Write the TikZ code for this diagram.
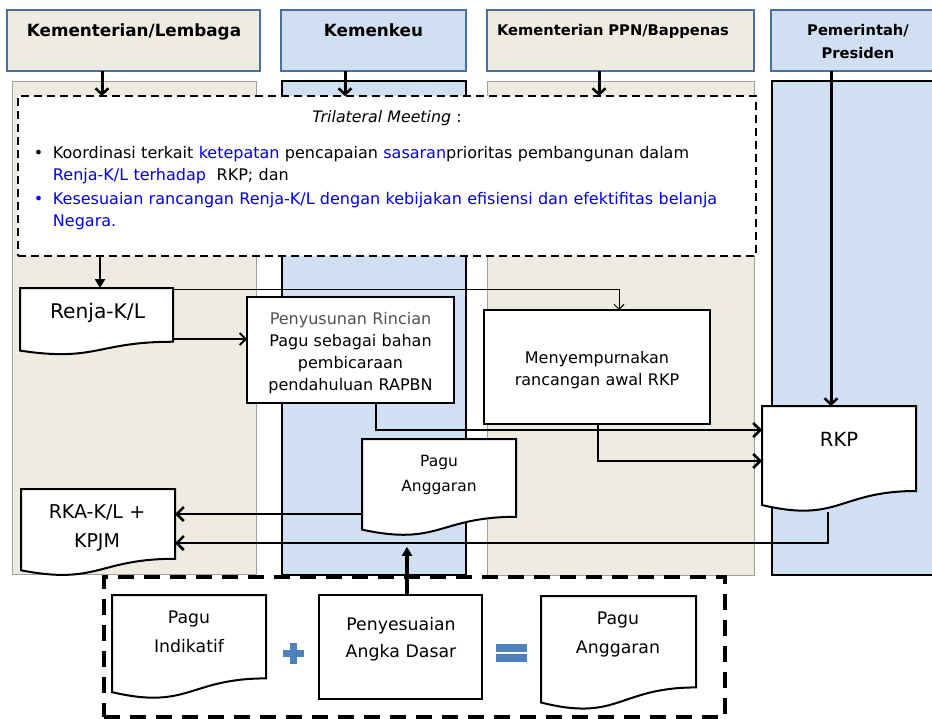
\documentclass[tikz,border=0pt]{standalone}
\usepackage{fontspec}
\setmainfont{DejaVu Sans}
\usetikzlibrary{arrows.meta,calc}
\definecolor{beige}{HTML}{EEECE1}
\definecolor{lblue}{HTML}{D0E0F2}
\definecolor{hdrline}{HTML}{4A6E9E}
\definecolor{tblue}{RGB}{0,0,235}
\definecolor{symblue}{HTML}{4F81BD}
\definecolor{lanegray}{HTML}{A0A0A0}
\definecolor{pgray}{HTML}{505050}
\newcommand\docshape[5]{%
  \filldraw[docline] (#2,#3) -- ++(#4,0) -- ++(0,{0.802*#5})
    .. controls ({#2+0.5*#4},{#3+0.802*#5}) and ({#2+0.5*#4},{#3+1.1075*#5}) .. (#2,{#3+0.934*#5}) -- cycle;
  \node[inner sep=0, outer sep=0, minimum width=#4pt, minimum height={#5pt*0.802}, anchor=north west] (#1) at (#2,#3) {};
}
\begin{document}
\begin{tikzpicture}[x=1pt,y=-1pt,
  hdrA/.style={draw=hdrline, line width=2pt, fill=beige, inner sep=0, outer sep=0, anchor=north west},
  hdrB/.style={hdrA, fill=lblue},
  hfont/.style={font=\bfseries\fontsize{16.8}{19}\selectfont},
  sfont/.style={font=\bfseries\fontsize{14.7}{23}\selectfont},
  laneA/.style={draw=lanegray, line width=0.8pt, fill=beige, inner sep=0, outer sep=0, anchor=north west},
  laneB/.style={draw=black, line width=2pt, fill=lblue, inner sep=0, outer sep=0, anchor=north west},
  proc/.style={draw=black, line width=2pt, fill=white, inner sep=0, outer sep=0, anchor=north west},
  docline/.style={draw=black, line width=2pt, fill=white},
  tx/.style={inner sep=0, outer sep=0, anchor=base, align=center, text width=#1},
  big/.style={-{Straight Barb[length=6pt,width=13pt,line width=2.5pt]}, line width=3pt},
  mid/.style={-{Straight Barb[length=7pt,width=14pt,line width=2.5pt]}, line width=2.5pt},
  med/.style={-{Straight Barb[length=6pt,width=12pt,line width=1.8pt]}, line width=1.8pt},
  thinarr/.style={-{Straight Barb[length=5pt,width=10pt,line width=1pt]}, line width=1pt},
  filltip/.style={-{Triangle[length=9pt,width=10pt]}, line width=2pt},
]
\useasboundingbox (0,0) rectangle (932,718);
% lanes
\node[laneA, minimum width=244pt, minimum height=493pt] (lane1) at (12,81) {};
\node[laneB, minimum width=184pt, minimum height=494pt] (lane2) at (282,81) {};
\node[laneA, minimum width=267pt, minimum height=494pt] (lane3) at (487,81) {};
\node[laneB, minimum width=180pt, minimum height=494pt] (lane4) at (772,81) {};
% headers
\node[hdrA, minimum width=253pt, minimum height=61pt] (h1) at (7,10) {};
\node[hdrB, minimum width=185pt, minimum height=61pt] (h2) at (281,10) {};
\node[hdrA, minimum width=267pt, minimum height=61pt] (h3) at (487,10) {};
\node[hdrB, minimum width=180pt, minimum height=61pt] (h4) at (771,10) {};
\node[tx=250pt, hfont] (h1t) at (134,36.5) {Kementerian/Lembaga};
\node[tx=180pt, hfont] (h2t) at (373.5,36.5) {Kemenkeu};
\node[tx=260pt, sfont] (h3t) at (613,35.7) {Kementerian PPN/Bappenas};
\node[tx=170pt, sfont] (h4t) at (858,35) {Pemerintah/\\Presiden};
% trilateral box
\node[draw=black, fill=white, line width=2pt, dash pattern=on 8pt off 5pt, minimum width=738pt, minimum height=160pt, anchor=north west, inner sep=0, outer sep=0] (tri) at (18,96) {};
\node[tx=300pt, font=\fontsize{15.8}{19}\selectfont] (trit) at (387,122) {\textit{Trilateral Meeting} :};
\node[inner sep=0, outer sep=0, anchor=base west, text width=725pt, align=left, font=\fontsize{16}{22.7}\selectfont] (b1) at (34,158)
  {\makebox[19pt][l]{\textbullet}Koordinasi terkait \textcolor{tblue}{ketepatan} pencapaian \textcolor{tblue}{sasaran}prioritas pembangunan dalam\\
   \hspace*{19pt}\textcolor{tblue}{Renja-K/L terhadap}\ \ RKP; dan};
\node[inner sep=0, outer sep=0, anchor=base west, text width=725pt, align=left, font=\fontsize{16}{22.7}\selectfont, text=tblue] (b2) at (34,204)
  {\makebox[19pt][l]{\textbullet}Kesesuaian rancangan Renja-K/L dengan kebijakan efisiensi dan efektifitas belanja\\
   \hspace*{19pt}Negara.};
% header arrows
\coordinate (c1) at ($(h1.south west)+(95,0)$);
\coordinate (c2) at ($(h2.south west)+(64,0)$);
\coordinate (c3) at ($(h3.south west)+(112,0)$);
\coordinate (c4) at ($(h4.south west)+(60,0)$);
\draw[big] (c1) -- (c1 |- tri.north);
\draw[big] (c2) -- (c2 |- tri.north);
\draw[big] (c3) -- (c3 |- tri.north);
% documents and processes
\docshape{renja}{20}{288}{153}{67}
\docshape{rkp}{762}{406}{154}{106}
\docshape{rka}{21}{489}{154}{87}
\docshape{pagu}{362}{439}{154}{97}
\docshape{pind}{112}{595}{154}{104}
\docshape{pagub}{541}{596}{155}{114}
\node[proc, minimum width=207pt, minimum height=106pt] (pen) at (247,297) {};
\node[proc, minimum width=226pt, minimum height=114pt] (mnp) at (484,310) {};
\node[proc, minimum width=163pt, minimum height=104pt] (pens) at (319,595) {};
\draw[big] (c4) -- (c4 |- rkp.north);
% texts
\node[tx=150pt, font=\fontsize{20.2}{23}\selectfont] (renjat) at (97.5,318) {Renja-K/L};
\node[tx=205pt, font=\fontsize{16}{22.3}\selectfont] (pent) at (350.5,324) {\textcolor{pgray}{Penyusunan Rincian}\\Pagu sebagai bahan\\pembicaraan\\pendahuluan RAPBN};
\node[tx=220pt, font=\fontsize{16}{22}\selectfont] (mnpt) at (597,363) {Menyempurnakan\\rancangan awal RKP};
\node[tx=100pt, font=\fontsize{19.5}{23}\selectfont] (rkpt) at (839,446) {RKP};
\node[tx=150pt, font=\fontsize{19}{29}\selectfont] (rkat) at (97,518) {RKA-K/L +\\KPJM};
\node[tx=150pt, font=\fontsize{15.5}{25}\selectfont] (pagut) at (439,466) {Pagu\\Anggaran};
\node[tx=150pt, font=\fontsize{17.3}{29}\selectfont] (pindt) at (189,623) {Pagu\\Indikatif};
\node[tx=160pt, font=\fontsize{17.3}{27}\selectfont] (penst) at (401,630) {Penyesuaian\\Angka Dasar};
\node[tx=150pt, font=\fontsize{17.3}{29}\selectfont] (pagubt) at (618,624) {Pagu\\Anggaran};
% connectors
\coordinate (c5) at ($(tri.south west)+(82,0)$);
\draw[filltip] (c5) -- (c5 |- renja.north);
\coordinate (c6) at ($(renja.north east)+(0,51)$);
\draw[med] (c6) -- (c6 -| pen.west);
\coordinate (c7) at ($(mnp.north west)+(135,0)$);
\draw[thinarr] ($(renja.north east)+(0,1)$) -| (c7);
\coordinate (c8) at ($(rkp.north west)+(0,24)$);
\draw[mid] ($(pen.south west)+(129,0)$) |- (c8);
\coordinate (c9) at ($(rkp.north west)+(0,55)$);
\draw[mid] ($(mnp.south west)+(114,0)$) |- (c9);
\coordinate (c10) at ($(pagu.north west)+(0,75)$);
\draw[mid] (c10) -- (c10 -| rka.east);
\coordinate (c11) at ($(rka.north east)+(0,54)$);
\draw[mid] ($(rkp.south west)+(66,21)$) |- (c11);
% bottom group
\node[draw=black, line width=4pt, dash pattern=on 16pt off 10pt, minimum width=621pt, minimum height=140pt, anchor=north west, inner sep=0, outer sep=0] (grp) at (104,577) {};
\coordinate (paguB) at ($(pagu.south west)+(45,30)$);
\draw[filltip, line width=4pt] (paguB |- pens.north) -- (paguB);
% plus and equals
\fill[symblue] (282.5,649.5) rectangle (303.5,656.5);
\fill[symblue] (289.5,642.5) rectangle (296.5,663.5);
\fill[symblue] (496,644) rectangle (527,652);
\fill[symblue] (496,654) rectangle (527,662);
\end{tikzpicture}
\end{document}
